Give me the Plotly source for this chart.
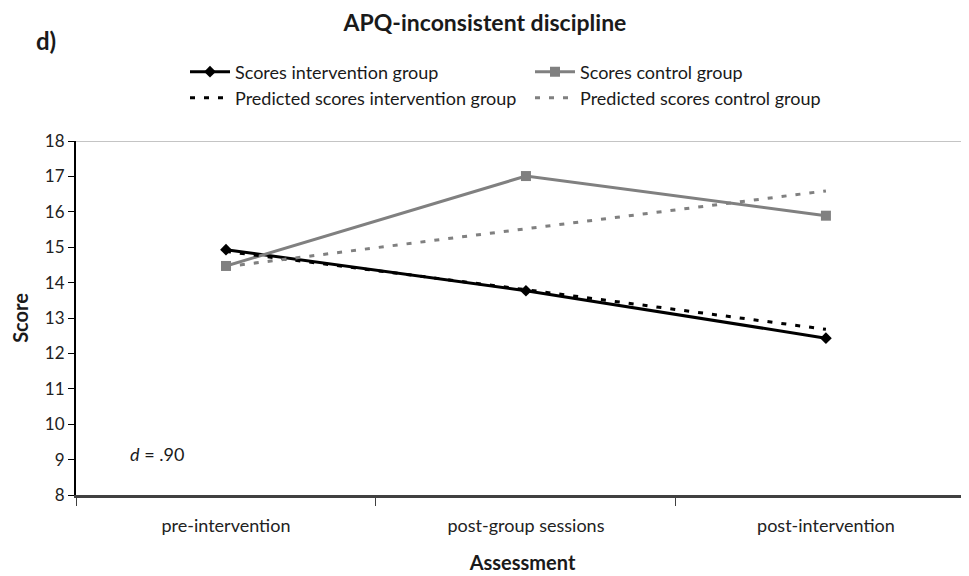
import plotly.graph_objects as go

categories = ["pre-intervention", "post-group sessions", "post-intervention"]
scores_intervention = [14.93, 13.77, 12.43]
scores_control = [14.47, 17.01, 15.89]
pred_intervention = [14.88, 13.80, 12.68]
pred_control = [14.45, 15.52, 16.59]

x = [0, 1, 2]
FONT = "Lato, sans-serif"

fig = go.Figure()
fig.add_trace(go.Scatter(x=x, y=scores_intervention, mode="lines+markers",
                         name="Scores intervention group",
                         line=dict(color="black", width=3),
                         marker=dict(symbol="diamond", size=9, color="black"),
                         legend="legend"))
fig.add_trace(go.Scatter(x=x, y=scores_control, mode="lines+markers",
                         name="Scores control group",
                         line=dict(color="#808080", width=3),
                         marker=dict(symbol="square", size=10, color="#808080"),
                         legend="legend2"))
fig.add_trace(go.Scatter(x=x, y=pred_intervention, mode="lines",
                         name="Predicted scores intervention group",
                         line=dict(color="black", width=3, dash="5px,9px"),
                         legend="legend3"))
fig.add_trace(go.Scatter(x=x, y=pred_control, mode="lines",
                         name="Predicted scores control group",
                         line=dict(color="#808080", width=3, dash="5px,9px"),
                         legend="legend4"))

# page is rendered with an 8px body margin; work in screen pixels
OFF = 8
W, H = 969, 576
L, T, R, B = 76 - OFF, 141 - OFF, OFF, 576 - 495 + OFF
PW, PH = W - L - R, H - T - B

def px_x(s):
    return (s - OFF - L) / PW

def px_y(s):
    return (H - B - (s - OFF)) / PH

leg_common = dict(orientation="h", xanchor="left", yanchor="middle",
                  font=dict(family=FONT, size=18, color="#1a1a1a"),
                  bgcolor="rgba(0,0,0,0)", itemwidth=40)

fig.update_layout(
    width=W, height=H,
    paper_bgcolor="white", plot_bgcolor="white",
    margin=dict(l=L, r=R, t=T, b=B, autoexpand=False),
    font=dict(family=FONT, size=16, color="#222"),
    title=dict(text="<b>APQ-inconsistent discipline</b>", x=(485 - OFF) / W, xanchor="center",
               y=1 - (23 - OFF) / H, yanchor="middle",
               font=dict(family=FONT, size=23, color="#1a1a1a")),
    legend=dict(x=px_x(235 - 50), y=px_y(72), **leg_common),
    legend2=dict(x=px_x(580 - 50), y=px_y(72), **leg_common),
    legend3=dict(x=px_x(235 - 50), y=px_y(98), **leg_common),
    legend4=dict(x=px_x(580 - 50), y=px_y(98), **leg_common),
    showlegend=True,
    xaxis=dict(range=[-0.5, 2.477], tickvals=x, ticktext=categories, ticks="",
               showgrid=False, zeroline=False, showline=True, linecolor="#404040",
               linewidth=3, tickfont=dict(family=FONT, size=18, color="#222"),
               ticklabelstandoff=12,
               minor=dict(tickvals=[-0.5, 0.5, 1.5], ticks="outside", ticklen=8,
                          tickcolor="#404040", tickwidth=1, showgrid=False),
               title=dict(text="<b>Assessment</b>", font=dict(family=FONT, size=20, color="#1a1a1a"),
                          standoff=22)),
    yaxis=dict(range=[8, 18], dtick=1, ticks="outside", ticklen=6, tickcolor="black",
               showgrid=False, zeroline=False, showline=True, linecolor="black", linewidth=2,
               tickfont=dict(family=FONT, size=17, color="#222"),
               title=dict(text="<b>Score</b>", font=dict(family=FONT, size=20, color="#1a1a1a"),
                          standoff=14)),
)

fig.add_shape(type="line", xref="paper", yref="y", x0=0, x1=1, y0=18, y1=18,
              line=dict(color="#b0b0b0", width=1.5))

fig.add_annotation(text="<b>d)</b>", xref="paper", yref="paper",
                   x=px_x(46), y=px_y(40), showarrow=False,
                   xanchor="center", yanchor="middle",
                   font=dict(family=FONT, size=24, color="#1a1a1a"))
fig.add_annotation(text="<i>d</i> = .90", xref="paper", yref="paper",
                   x=px_x(128), y=px_y(454), showarrow=False,
                   xanchor="left", yanchor="middle",
                   font=dict(family=FONT, size=18, color="#1a1a1a"))

fig.write_html("out.html")
